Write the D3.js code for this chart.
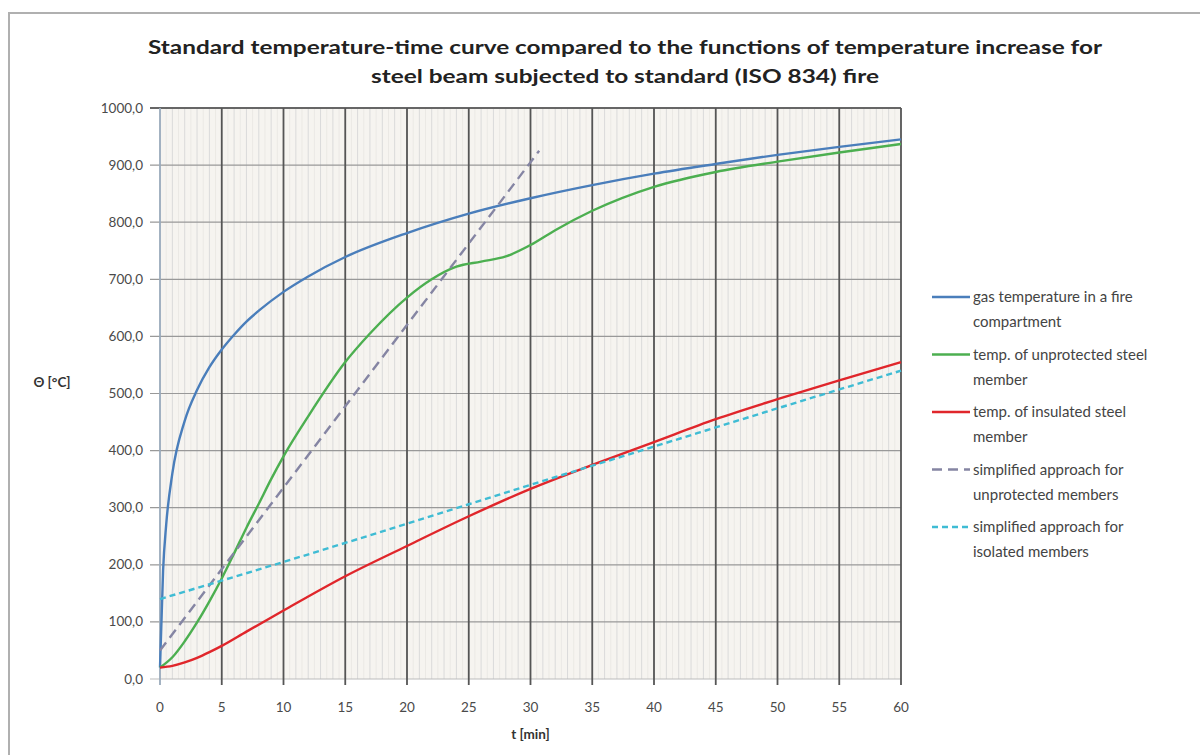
<!DOCTYPE html>
<html>
<head>
<meta charset="utf-8">
<script src="https://cdnjs.cloudflare.com/ajax/libs/d3/7.8.4/d3.min.js"></script>
<style>
  body { margin: 0; background: #fff; }
  svg { display: block; font-family: Lato, "Open Sans", sans-serif; }
</style>
</head>
<body>
<div id="chart"></div>
<script>
// values (t in minutes, temperature in °C)
const gasT    = [0, 0.25, 0.5, 1, 2, 3, 4, 5, 6, 7, 8, 10, 12, 15, 20, 25, 30, 35, 40, 45, 50, 55, 60];
const gasV    = [20, 190, 270, 360, 452, 506, 546, 577, 603, 626, 645, 678, 705, 739, 781, 815, 842, 865, 885, 902, 918, 932, 945];

const unprotT = [0, 1, 2, 3, 4, 5, 6, 7, 8, 9, 10, 12, 15, 17, 20, 22, 24, 26, 28, 30, 32, 35, 40, 45, 50, 55, 60];
const unprotV = [20, 38, 66, 99, 136, 176, 220, 265, 307, 350, 390, 460, 555, 605, 668, 700, 722, 731, 740, 760, 786, 820, 862, 888, 906, 922, 937];

const insulT  = [0, 1, 2, 3, 4, 5, 7, 10, 15, 20, 25, 30, 35, 40, 45, 50, 55, 60];
const insulV  = [20, 23, 29, 37, 47, 58, 83, 120, 180, 233, 285, 333, 375, 415, 455, 490, 523, 555];

const simpUnprotT = [0, 30.7];
const simpUnprotV = [50, 925];

const simpIsolT = [0, 10, 20, 30, 40, 50, 60];
const simpIsolV = [140, 205, 272, 340, 407, 474, 540];

const xTicks = [0, 5, 10, 15, 20, 25, 30, 35, 40, 45, 50, 55, 60];
const yTicks = [0, 100, 200, 300, 400, 500, 600, 700, 800, 900, 1000];

const titleLines = [
  "Standard temperature-time curve compared to the functions of temperature increase for",
  "steel beam subjected to standard (ISO 834) fire"
];

const series = [
  { name: ["gas temperature in a fire", "compartment"], t: gasT, v: gasV, color: "#4a7ebb", dash: null, curve: d3.curveMonotoneX },
  { name: ["temp. of unprotected steel", "member"], t: unprotT, v: unprotV, color: "#4caf50", dash: null, curve: d3.curveMonotoneX },
  { name: ["temp. of insulated steel", "member"], t: insulT, v: insulV, color: "#e0262b", dash: null, curve: d3.curveMonotoneX },
  { name: ["simplified approach for", "unprotected members"], t: simpUnprotT, v: simpUnprotV, color: "#8585a3", dash: "10,6", curve: d3.curveLinear },
  { name: ["simplified approach for", "isolated members"], t: simpIsolT, v: simpIsolV, color: "#3fbcd4", dash: "6,4", curve: d3.curveMonotoneX }
];

const W = 1200, H = 755;
const svg = d3.select("#chart").append("svg")
  .attr("width", W).attr("height", H);

// outer frame
svg.append("path")
  .attr("d", `M9,${H} V13 H${W}`)
  .attr("fill", "none").attr("stroke", "#b0b0b0").attr("stroke-width", 2);

const x = d3.scaleLinear().domain([0, 60]).range([160, 901]);
const y = d3.scaleLinear().domain([0, 1000]).range([679, 108]);

// plot background
svg.append("rect")
  .attr("x", x(0)).attr("y", y(1000))
  .attr("width", x(60) - x(0)).attr("height", y(0) - y(1000))
  .attr("fill", "#f6f4f0");

// minor vertical grid every minute (half-minute lighter)
svg.append("g").selectAll("line")
  .data(d3.range(0.5, 60, 0.5))
  .join("line")
  .attr("x1", d => x(d)).attr("x2", d => x(d))
  .attr("y1", y(1000)).attr("y2", y(0))
  .attr("stroke", d => d % 1 === 0 ? "#dadada" : "#ebe9e5")
  .attr("stroke-width", 1);

// horizontal grid
svg.append("g").selectAll("line")
  .data(yTicks)
  .join("line")
  .attr("x1", x(0) - 10).attr("x2", x(60))
  .attr("y1", d => y(d)).attr("y2", d => y(d))
  .attr("stroke", d => d === 1000 ? "#666" : (d === 0 ? "#bbb" : "#999"))
  .attr("stroke-width", d => d === 1000 ? 2 : 1.2);

// major vertical grid
svg.append("g").selectAll("line")
  .data(xTicks)
  .join("line")
  .attr("x1", d => x(d)).attr("x2", d => x(d))
  .attr("y1", y(1000)).attr("y2", y(0) + 6)
  .attr("stroke", d => d === 0 ? "#9ab" : "#555")
  .attr("stroke-width", 1.8);

// y tick labels
svg.append("g").selectAll("text")
  .data(yTicks)
  .join("text")
  .attr("x", 143).attr("y", d => y(d) + 4.5)
  .attr("text-anchor", "end")
  .attr("font-size", 13.5).attr("fill", "#4a4a4a")
  .text(d => d3.format(".1f")(d).replace(".", ","));

// x tick labels
svg.append("g").selectAll("text")
  .data(xTicks)
  .join("text")
  .attr("x", d => x(d)).attr("y", 712)
  .attr("text-anchor", "middle")
  .attr("font-size", 13.5).attr("fill", "#4a4a4a")
  .text(d => d);

// axis titles
svg.append("text")
  .attr("x", x(30)).attr("y", 739)
  .attr("text-anchor", "middle")
  .attr("font-size", 13.5).attr("font-weight", "bold").attr("fill", "#333")
  .text("t [min]");
svg.append("text")
  .attr("x", 52).attr("y", 387)
  .attr("text-anchor", "middle")
  .attr("font-size", 13.5).attr("font-weight", "bold").attr("fill", "#333")
  .text("Θ [°C]");

// title
const titleLen = [954, 508];
svg.append("g").selectAll("text")
  .data(titleLines)
  .join("text")
  .attr("x", 625).attr("y", (d, i) => 54 + i * 29)
  .attr("text-anchor", "middle")
  .attr("font-size", 19).attr("font-weight", "bold").attr("fill", "#222")
  .attr("textLength", (d, i) => titleLen[i])
  .attr("lengthAdjust", "spacingAndGlyphs")
  .text(d => d);

// curves
const plot = svg.append("g");
series.forEach(s => {
  const pts = s.t.map((t, i) => [t, s.v[i]]);
  const line = d3.line().x(d => x(d[0])).y(d => y(d[1])).curve(s.curve);
  plot.append("path")
    .datum(pts)
    .attr("d", line)
    .attr("fill", "none")
    .attr("stroke", s.color)
    .attr("stroke-width", 2.4)
    .attr("stroke-dasharray", s.dash);
});

// legend
const legend = svg.append("g");
series.forEach((s, i) => {
  const ly = 297 + i * 57.5;
  legend.append("line")
    .attr("x1", 932).attr("x2", 970)
    .attr("y1", ly).attr("y2", ly)
    .attr("stroke", s.color).attr("stroke-width", 2.6)
    .attr("stroke-dasharray", s.dash);
  s.name.forEach((txt, j) => {
    legend.append("text")
      .attr("x", 973).attr("y", ly + 5 + j * 25)
      .attr("font-size", 15).attr("fill", "#444")
      .text(txt);
  });
});
</script>
</body>
</html>
